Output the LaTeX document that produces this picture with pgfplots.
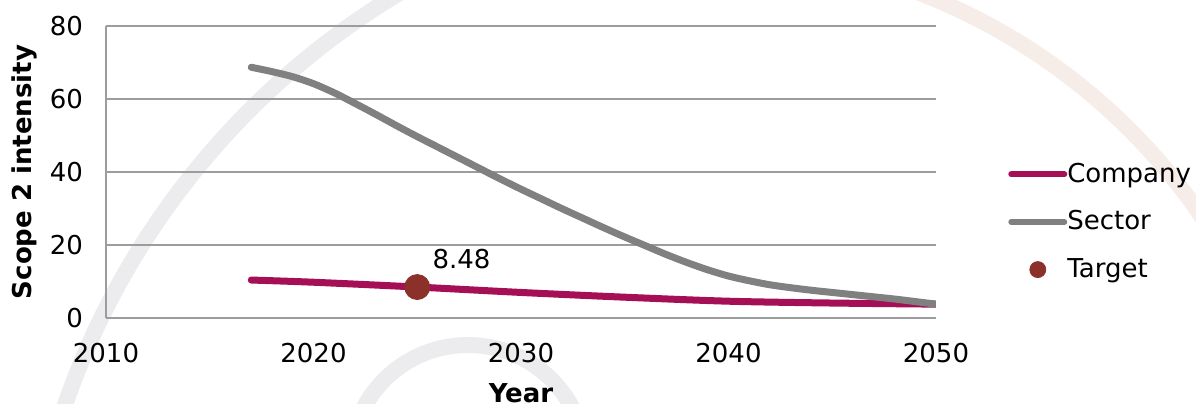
\documentclass[border=0pt]{standalone}
\usepackage{fontspec}
\setmainfont{DejaVu Sans}
\usepackage{pgfplots}
\pgfplotsset{compat=1.18}
\definecolor{company}{HTML}{A50F55}
\definecolor{sector}{HTML}{808080}
\definecolor{target}{HTML}{8B3129}
\definecolor{gridc}{HTML}{9C9C9C}
\definecolor{wmgray}{HTML}{ECECEE}
\definecolor{wmorange}{HTML}{F7EDE8}
\begin{document}
\begin{tikzpicture}[font=\fontsize{13pt}{15.6pt}\selectfont]
% faint watermark arcs in the background
\draw[line width=8pt, wmgray] (400pt,-128.5pt) ++(110:389pt) arc[start angle=110, end angle=172, radius=389pt];
\draw[line width=8pt, wmgray] (234pt,-30pt) ++(0:59pt) arc[start angle=0, end angle=180, radius=59pt];
\draw[line width=8pt, wmorange] (350pt,-78.5pt) ++(20:304pt) arc[start angle=20, end angle=80, radius=304pt];
\begin{axis}[
  scale only axis, width=415pt, height=146pt,
  at={(53pt,42.5pt)}, anchor=south west,
  xmin=2010, xmax=2050, ymin=0, ymax=80,
  xtick={2010,2020,...,2050}, ytick={0,20,...,80},
  axis x line*=bottom, axis y line*=left,
  axis line style={draw=gridc, line width=0.75pt, -},
  ymajorgrids, grid style={draw=gridc, line width=0.75pt},
  major tick length=0pt, tick style={draw=none},
  /pgf/number format/assume math mode=true,
  /pgf/number format/1000 sep={},
  tick label style={font=\fontsize{13pt}{15.6pt}\selectfont, text=black},
  xticklabel style={yshift=-9pt}, yticklabel style={xshift=-8pt},
  xlabel={\bfseries Year}, ylabel={\bfseries Scope 2 intensity},
  every axis x label/.style={at={(axis description cs:0.5,0)}, anchor=base, yshift=-42pt, font=\fontsize{13pt}{15.6pt}\selectfont},
  every axis y label/.style={at={(axis description cs:-0.0988,0.5)}, anchor=center, rotate=90, font=\fontsize{13pt}{15.6pt}\selectfont},
  legend style={draw=none, fill=none, at={(axis description cs:1.0794,0.548)}, anchor=north west,
    font=\fontsize{13pt}{15.6pt}\selectfont,
    nodes={inner sep=0pt, text height=10pt, text depth=3pt}, row sep=10.8pt,
    /tikz/every even column/.append style={column sep=2.5pt}},
  legend cell align=left,
]
\addplot[company, line width=3.5pt, smooth, line cap=round,
  legend image code/.code={\draw[company, line width=3pt, line cap=round] (0pt,0.5pt) -- (26.5pt,0.5pt);}]
  coordinates {(2017,10.4) (2020,9.8) (2025,8.48) (2030,7.0) (2035,5.7) (2040,4.6) (2045,4.1) (2050,3.8)};
\addlegendentry{Company}
\addplot[sector, line width=3.5pt, smooth, line cap=round,
  legend image code/.code={\draw[sector, line width=3pt, line cap=round] (0pt,0.5pt) -- (26.5pt,0.5pt);}]
  coordinates {(2017,68.7) (2018,67.5) (2019,66.1) (2020,64.2) (2021,61.7) (2022,58.8) (2023,55.8) (2024,52.7) (2025,49.7) (2026,46.8) (2027,43.9) (2028,41.0) (2029,38.1) (2030,35.3) (2031,32.6) (2032,29.9) (2033,27.3) (2034,24.7) (2035,22.2) (2036,19.8) (2037,17.4) (2038,15.2) (2039,13.2) (2040,11.5) (2041,10.2) (2042,9.1) (2043,8.3) (2044,7.6) (2045,7.0) (2046,6.4) (2047,5.8) (2048,5.2) (2049,4.5) (2050,3.8)};
\addlegendentry{Sector}
\addplot[only marks, mark=*, mark size=6.25pt, mark options={fill=target, draw=target},
  nodes near coords, point meta=explicit symbolic,
  nodes near coords style={anchor=base west, inner sep=0pt, xshift=7.5pt, yshift=9.5pt, text=black, font=\fontsize{13pt}{15.6pt}\selectfont},
  legend image code/.code={\fill[target] (13.25pt,0.5pt) circle (4pt);}]
  coordinates {(2025,8.48) [8.48]};
\addlegendentry{Target}
\end{axis}
\pgfresetboundingbox
\useasboundingbox (0,0) rectangle (598pt,201.5pt);
\end{tikzpicture}
\end{document}
